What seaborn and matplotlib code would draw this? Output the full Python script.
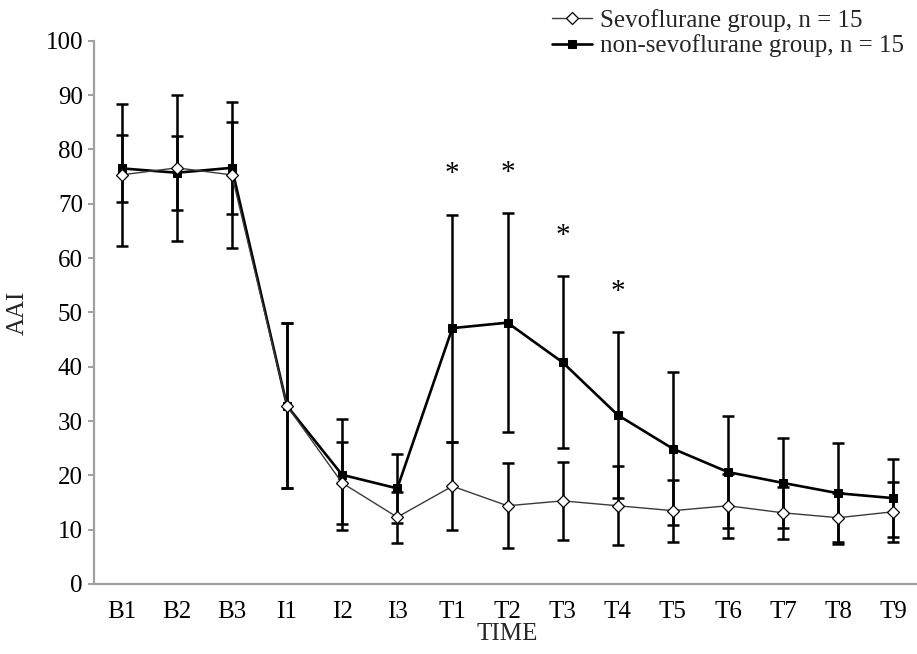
import numpy as np
import pandas as pd
import matplotlib
matplotlib.use("Agg")
import matplotlib.pyplot as plt
import seaborn as sns
from matplotlib.ticker import FixedLocator, MultipleLocator

# ---- data ----
times = ["B1", "B2", "B3", "I1", "I2", "I3", "T1", "T2", "T3",
         "T4", "T5", "T6", "T7", "T8", "T9"]
sevo_mean = [75.3, 76.6, 75.3, 32.8, 18.6, 12.3, 18.0, 14.4, 15.3,
             14.4, 13.5, 14.4, 13.1, 12.2, 13.3]
sevo_sd = [13.0, 13.4, 13.4, 15.2, 7.5, 4.7, 8.1, 7.8, 7.2,
           7.3, 5.7, 5.9, 4.8, 4.5, 5.5]
non_mean = [76.5, 75.7, 76.6, 32.8, 20.1, 17.6, 47.1, 48.1, 40.8,
            31.1, 24.9, 20.6, 18.6, 16.7, 15.8]
non_sd = [6.1, 6.8, 8.5, 15.2, 10.2, 6.3, 20.9, 20.1, 15.8,
          15.3, 14.1, 10.3, 8.3, 9.3, 7.2]
significant = [False, False, False, False, False, False, True, True, True,
               True, False, False, False, False, False]
sevo_label = "Sevoflurane group, n = 15"
non_label = "non-sevoflurane group, n = 15"

pos = np.arange(len(times))
df = pd.DataFrame({
    "pos": np.concatenate([pos, pos]),
    "AAI": sevo_mean + non_mean,
    "group": [sevo_label] * len(times) + [non_label] * len(times),
})

FS = 18
sns.set_theme(style="white")
plt.rcParams["font.family"] = ["Liberation Serif", "DejaVu Serif"]
plt.rcParams["font.size"] = FS

fig = plt.figure(figsize=(9.17, 6.54), dpi=100)
ax = fig.add_axes([94 / 917, 1 - 584 / 654, (921 - 94) / 917, (584 - 40.7) / 654])

# error bars
ax.errorbar(pos, non_mean, yerr=non_sd, fmt="none", ecolor="black",
            elinewidth=1.8, capsize=4.3, capthick=1.8, zorder=2)
ax.errorbar(pos, sevo_mean, yerr=sevo_sd, fmt="none", ecolor="black",
            elinewidth=1.8, capsize=4.3, capthick=1.8, zorder=2)

# lines
sns.lineplot(data=df[df.group == non_label], x="pos", y="AAI", ax=ax,
             color="black", linewidth=1.9, marker="s", markersize=5.5,
             markerfacecolor="black", markeredgecolor="black",
             label=non_label, zorder=3)
sns.lineplot(data=df[df.group == sevo_label], x="pos", y="AAI", ax=ax,
             color="#3a3a3a", linewidth=1.0, marker="D", markersize=6.3,
             markerfacecolor="white", markeredgecolor="black",
             markeredgewidth=0.9, label=sevo_label, zorder=4)

# significance markers
for i, s in enumerate(significant):
    if s:
        ax.text(pos[i], non_mean[i] + non_sd[i] + 7.4, "*", ha="center",
                va="center", fontsize=21, color="black")

ax.set_xlim(-0.5, len(times) - 0.5)
ax.set_ylim(0, 100)
ax.yaxis.set_major_locator(MultipleLocator(10))
ax.set_xticks(pos)
ax.set_xticklabels(times)
ax.xaxis.set_minor_locator(FixedLocator(np.arange(-0.5, len(times), 1.0)))

spine_col = "#a0a0a0"
for side in ["top", "right"]:
    ax.spines[side].set_visible(False)
for side in ["left", "bottom"]:
    ax.spines[side].set_color(spine_col)
    ax.spines[side].set_linewidth(1.6)

ax.tick_params(axis="x", which="major", length=0, pad=12, labelsize=FS,
               colors="black")
ax.tick_params(axis="x", which="minor", length=6, width=1.4,
               color=spine_col, direction="out")
ax.tick_params(axis="y", which="major", length=4, width=1.4,
               color=spine_col, direction="out", pad=4, labelsize=FS,
               labelcolor="black")
ax.tick_params(bottom=True, left=True)

ax.set_xlabel("TIME", fontsize=FS, labelpad=0)
ax.set_ylabel("AAI", fontsize=FS, labelpad=12)

handles, labels = ax.get_legend_handles_labels()
ax.get_legend().remove()
order = [labels.index(sevo_label), labels.index(non_label)]
fig.legend([handles[i] for i in order], [labels[i] for i in order],
           loc="upper left", bbox_to_anchor=(552 / 917, 1 - 9 / 654),
           frameon=False, fontsize=FS, handlelength=1.6, handletextpad=0.3,
           labelspacing=0.1, borderaxespad=0, borderpad=0)

fig.savefig("out.png", dpi=100)
